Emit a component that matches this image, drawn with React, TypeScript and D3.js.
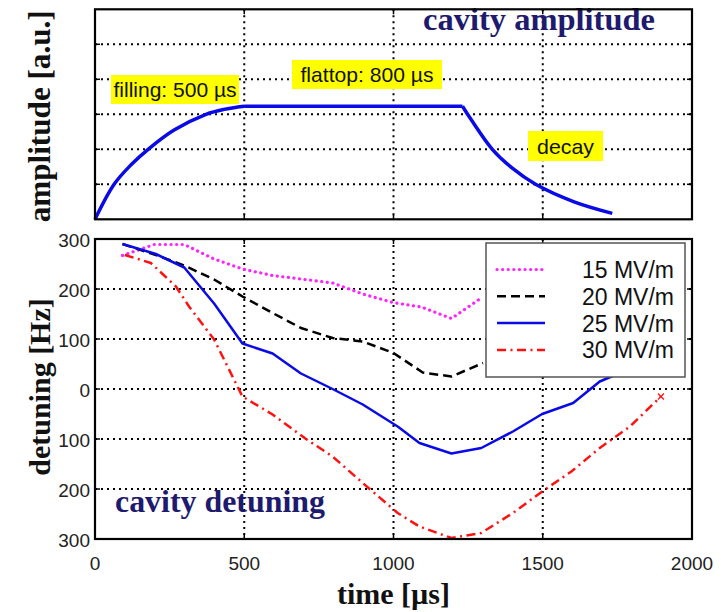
import React, { useEffect, useRef } from "react";
import * as d3 from "d3";

// x axis (shared)
const timeTicks = [0, 500, 1000, 1500, 2000];
const timeTickLabels = ["0", "500", "1000", "1500", "2000"];

// top panel: cavity amplitude (a.u., 6 grid divisions)
const ampGrid = [1, 2, 3, 4, 5];
const fillTime = [0, 64, 120, 181, 265, 372, 432, 500];
const fillAmp = [0, 1, 1.55, 2.02, 2.55, 3, 3.14, 3.23];
const flatTime = [500, 1231];
const flatAmp = [3.23, 3.23];
const decayTime = [1231, 1260, 1331, 1398, 1476, 1605, 1733];
const decayAmp = [3.23, 2.85, 2.0, 1.46, 1.0, 0.5, 0.17];

// bottom panel: detuning [Hz]
const detuningTicks = [300, 200, 100, 0, -100, -200, -300];
const detuningTickLabels = ["300", "200", "100", "0", "100", "200", "300"];

const t15 = [92, 198, 299, 399, 494, 595, 690, 796, 897, 998, 1093, 1194, 1294];
const v15 = [267, 289, 289, 260, 240, 227, 220, 212, 190, 173, 164, 141, 182];
const t20 = [92, 204, 299, 399, 494, 595, 690, 796, 897, 1000, 1098, 1194, 1300];
const v20 = [290, 268, 247, 219, 185, 152, 122, 102, 95, 72, 33, 25, 52];
const t25 = [92, 204, 299, 399, 494, 595, 690, 796, 897, 1014, 1087, 1194, 1294, 1400, 1498, 1602, 1691, 1750];
const v25 = [290, 270, 243, 171, 91, 71, 31, 0, -31, -75, -108, -129, -118, -85, -50, -28, 15, 30];
const t30 = [100, 187, 271, 315, 399, 494, 595, 707, 796, 897, 1014, 1087, 1194, 1294, 1400, 1498, 1596, 1691, 1792, 1896];
const v30 = [268, 252, 205, 165, 99, -15, -51, -100, -135, -188, -248, -275, -298, -288, -248, -205, -165, -118, -75, -15];

const seriesNames = ["15 MV/m", "20 MV/m", "25 MV/m", "30 MV/m"];

const serif = "'Liberation Serif', 'Times New Roman', serif";
const sans = "'Liberation Sans', Arial, sans-serif";

export default function App() {
  const svgRef = useRef<SVGSVGElement>(null);

  useEffect(() => {
    const svg = d3.select(svgRef.current);
    svg.selectAll("*").remove();

    const x = d3.scaleLinear().domain([0, 2000]).range([95, 692]);
    const yAmp = d3.scaleLinear().domain([0, 6]).range([219.3, 9.3]);
    const yDet = d3.scaleLinear().domain([-300, 300]).range([539, 239]);

    const drawFrame = (y: d3.ScaleLinear<number, number>, yGrid: number[]) => {
      const [x0, x1] = x.range();
      const [yb, yt] = y.range();
      const g = svg.append("g");
      // dotted grid
      g.selectAll(".gx")
        .data([500, 1000, 1500])
        .join("line")
        .attr("x1", (d) => x(d))
        .attr("x2", (d) => x(d))
        .attr("y1", yt)
        .attr("y2", yb)
        .attr("stroke", "#000")
        .attr("stroke-width", 2)
        .attr("stroke-dasharray", "2 4");
      g.selectAll(".gy")
        .data(yGrid)
        .join("line")
        .attr("x1", x0)
        .attr("x2", x1)
        .attr("y1", (d) => y(d))
        .attr("y2", (d) => y(d))
        .attr("stroke", "#000")
        .attr("stroke-width", 2)
        .attr("stroke-dasharray", "2 4");
      // inward ticks
      [500, 1000, 1500].forEach((t) => {
        g.append("line").attr("x1", x(t)).attr("x2", x(t)).attr("y1", yb).attr("y2", yb - 5).attr("stroke", "#000").attr("stroke-width", 1.5);
        g.append("line").attr("x1", x(t)).attr("x2", x(t)).attr("y1", yt).attr("y2", yt + 5).attr("stroke", "#000").attr("stroke-width", 1.5);
      });
      yGrid.forEach((v) => {
        g.append("line").attr("x1", x0).attr("x2", x0 + 5).attr("y1", y(v)).attr("y2", y(v)).attr("stroke", "#000").attr("stroke-width", 1.5);
        g.append("line").attr("x1", x1).attr("x2", x1 - 5).attr("y1", y(v)).attr("y2", y(v)).attr("stroke", "#000").attr("stroke-width", 1.5);
      });
      return g;
    };

    // ---------- top panel ----------
    drawFrame(yAmp, ampGrid);

    const ampLine = (ts: number[], vs: number[], curve: d3.CurveFactory) =>
      d3
        .line<number>()
        .x((d) => x(ts[d]))
        .y((d) => yAmp(vs[d]))
        .curve(curve)(d3.range(ts.length));

    [
      [fillTime, fillAmp, d3.curveCatmullRom.alpha(0.5)],
      [flatTime, flatAmp, d3.curveLinear],
      [decayTime, decayAmp, d3.curveCatmullRom.alpha(0.5)],
    ].forEach(([ts, vs, c]) => {
      svg
        .append("path")
        .attr("d", ampLine(ts as number[], vs as number[], c as d3.CurveFactory))
        .attr("fill", "none")
        .attr("stroke", "#0a0ae6")
        .attr("stroke-width", 3.5)
        .attr("stroke-linejoin", "round");
    });

    // yellow annotations
    const notes = [
      { text: "filling: 500 µs", x: 111, y: 75, w: 128, h: 29, len: 123 },
      { text: "flattop: 800 µs", x: 292, y: 60, w: 150, h: 29, len: 133 },
      { text: "decay", x: 528, y: 131, w: 75, h: 30, len: 57 },
    ];
    notes.forEach((n) => {
      svg.append("rect").attr("x", n.x).attr("y", n.y).attr("width", n.w).attr("height", n.h).attr("fill", "#ffff00");
      svg
        .append("text")
        .attr("x", n.x + n.w / 2)
        .attr("y", n.y + n.h / 2 + 7.5)
        .attr("text-anchor", "middle")
        .attr("font-family", sans)
        .attr("font-size", 21)
        .attr("textLength", n.len)
        .attr("lengthAdjust", "spacingAndGlyphs")
        .attr("fill", "#111")
        .text(n.text);
    });

    svg
      .append("text")
      .attr("x", 423)
      .attr("y", 30)
      .attr("font-family", serif)
      .attr("font-weight", "bold")
      .attr("font-size", 31)
      .attr("textLength", 232)
      .attr("lengthAdjust", "spacingAndGlyphs")
      .attr("fill", "#1e1a6e")
      .text("cavity amplitude");

    svg
      .append("rect")
      .attr("x", x(0))
      .attr("y", yAmp(6))
      .attr("width", x(2000) - x(0))
      .attr("height", yAmp(0) - yAmp(6))
      .attr("fill", "none")
      .attr("stroke", "#000")
      .attr("stroke-width", 2.2);

    // ---------- bottom panel ----------
    drawFrame(yDet, [200, 100, 0, -100, -200]);

    svg
      .append("text")
      .attr("x", 115)
      .attr("y", 512)
      .attr("font-family", serif)
      .attr("font-weight", "bold")
      .attr("font-size", 31)
      .attr("textLength", 210)
      .attr("lengthAdjust", "spacingAndGlyphs")
      .attr("fill", "#1e1a6e")
      .text("cavity detuning");

    const styles = [
      { t: t15, v: v15, color: "#ff22ff", dash: "0.1 5.5", width: 3.2, cap: "round" },
      { t: t20, v: v20, color: "#000", dash: "9 5", width: 2.5, cap: "butt" },
      { t: t25, v: v25, color: "#0a0ae6", dash: null, width: 2.5, cap: "butt" },
      { t: t30, v: v30, color: "#ff1111", dash: "9 4.5 2 4.5", width: 2.5, cap: "butt" },
    ];

    styles.forEach((s) => {
      const line = d3
        .line<number>()
        .x((i) => x(s.t[i]))
        .y((i) => yDet(s.v[i]));
      svg
        .append("path")
        .attr("d", line(d3.range(s.t.length)))
        .attr("fill", "none")
        .attr("stroke", s.color)
        .attr("stroke-width", s.width)
        .attr("stroke-dasharray", s.dash)
        .attr("stroke-linecap", s.cap)
        .attr("stroke-linejoin", "round");
    });

    // end marker of the 30 MV/m trace
    const ex = x(t30[t30.length - 1]);
    const ey = yDet(v30[v30.length - 1]);
    svg
      .append("path")
      .attr("d", `M${ex - 3},${ey - 3}L${ex + 3},${ey + 3}M${ex - 3},${ey + 3}L${ex + 3},${ey - 3}`)
      .attr("stroke", "#ff1111")
      .attr("stroke-width", 1.2);

    // legend
    const lg = svg.append("g").attr("transform", "translate(486,243)");
    lg.append("rect").attr("width", 199).attr("height", 134).attr("fill", "#fff").attr("stroke", "#555").attr("stroke-width", 1.5);
    styles.forEach((s, i) => {
      const ly = 26.5 + i * 26.8;
      lg.append("line")
        .attr("x1", 11)
        .attr("x2", 59)
        .attr("y1", ly)
        .attr("y2", ly)
        .attr("stroke", s.color)
        .attr("stroke-width", s.width)
        .attr("stroke-dasharray", s.dash)
        .attr("stroke-linecap", s.cap);
      lg.append("text")
        .attr("x", 188)
        .attr("y", ly + 8.5)
        .attr("text-anchor", "end")
        .attr("font-family", sans)
        .attr("font-size", 23)
        .attr("fill", "#111")
        .text(seriesNames[i]);
    });

    svg
      .append("rect")
      .attr("x", x(0))
      .attr("y", yDet(300))
      .attr("width", x(2000) - x(0))
      .attr("height", yDet(-300) - yDet(300))
      .attr("fill", "none")
      .attr("stroke", "#000")
      .attr("stroke-width", 2.2);

    // tick labels
    svg
      .append("g")
      .selectAll("text")
      .data(timeTicks)
      .join("text")
      .attr("x", (d) => x(d))
      .attr("y", 570)
      .attr("text-anchor", "middle")
      .attr("font-family", sans)
      .attr("font-size", 19)
      .attr("fill", "#222")
      .text((d, i) => timeTickLabels[i]);

    svg
      .append("g")
      .selectAll("text")
      .data(detuningTicks)
      .join("text")
      .attr("x", 90)
      .attr("y", (d) => yDet(d) + 8)
      .attr("text-anchor", "end")
      .attr("font-family", sans)
      .attr("font-size", 19)
      .attr("fill", "#222")
      .text((d, i) => detuningTickLabels[i]);

    // axis titles
    svg
      .append("text")
      .attr("transform", `translate(50,${(yAmp(0) + yAmp(6)) / 2 + 2}) rotate(-90)`)
      .attr("text-anchor", "middle")
      .attr("font-family", serif)
      .attr("font-weight", "bold")
      .attr("font-size", 31)
      .attr("textLength", 212)
      .attr("lengthAdjust", "spacingAndGlyphs")
      .attr("fill", "#111")
      .text("amplitude [a.u.]");

    svg
      .append("text")
      .attr("transform", "translate(50,387) rotate(-90)")
      .attr("text-anchor", "middle")
      .attr("font-family", serif)
      .attr("font-weight", "bold")
      .attr("font-size", 30)
      .attr("fill", "#111")
      .text("detuning [Hz]");

    svg
      .append("text")
      .attr("x", (x(0) + x(2000)) / 2)
      .attr("y", 604)
      .attr("text-anchor", "middle")
      .attr("font-family", serif)
      .attr("font-weight", "bold")
      .attr("font-size", 30)
      .attr("fill", "#111")
      .text("time [µs]");
  }, []);

  return (
    <svg
      ref={svgRef}
      width={721}
      height={612}
      style={{ position: "absolute", left: 0, top: 0, background: "#fff" }}
    />
  );
}
